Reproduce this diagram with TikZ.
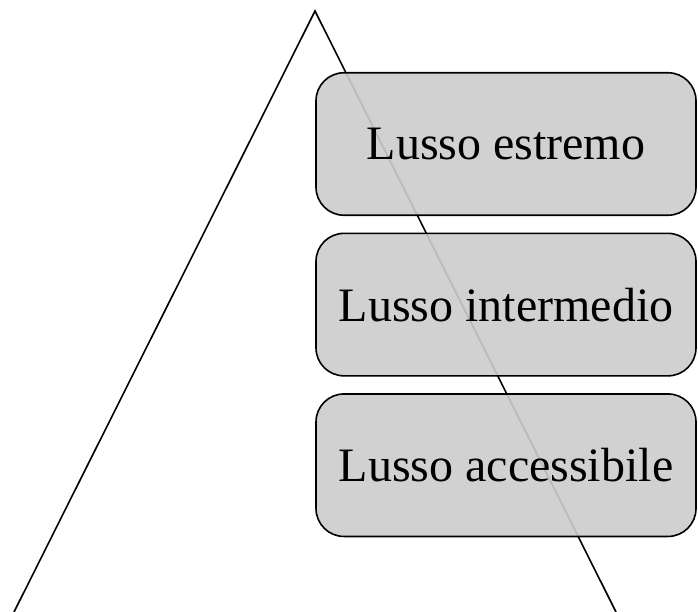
\documentclass[tikz,border=0pt]{standalone}
\usepackage{fontspec}
\setmainfont{Liberation Serif}
\usetikzlibrary{positioning}

\begin{document}
\begin{tikzpicture}[
    x=1pt,
    y=-1pt,
    node distance=16.5pt,
    livello/.style={
        draw,
        line width=1.6pt,
        rounded corners=28pt,
        fill=black!20,
        fill opacity=0.9,
        text opacity=1,
        minimum width=380pt,
        minimum height=142.5pt,
        align=center,
        font=\fontsize{48}{56}\selectfont
    }
]

\useasboundingbox (0,0) rectangle (698,612);

\coordinate (vertice) at (315,11);
\coordinate (basesx) at (14,612);
\coordinate (basedx) at (616,612);

\draw[line width=1.6pt] (basesx) -- (vertice) -- (basedx);

\node[livello] (estremo) at (506,144)
{Lusso estremo};

\node[livello, below=of estremo] (intermedio)
{Lusso intermedio};

\node[livello, below=of intermedio] (accessibile)
{Lusso accessibile};

\end{tikzpicture}
\end{document}
